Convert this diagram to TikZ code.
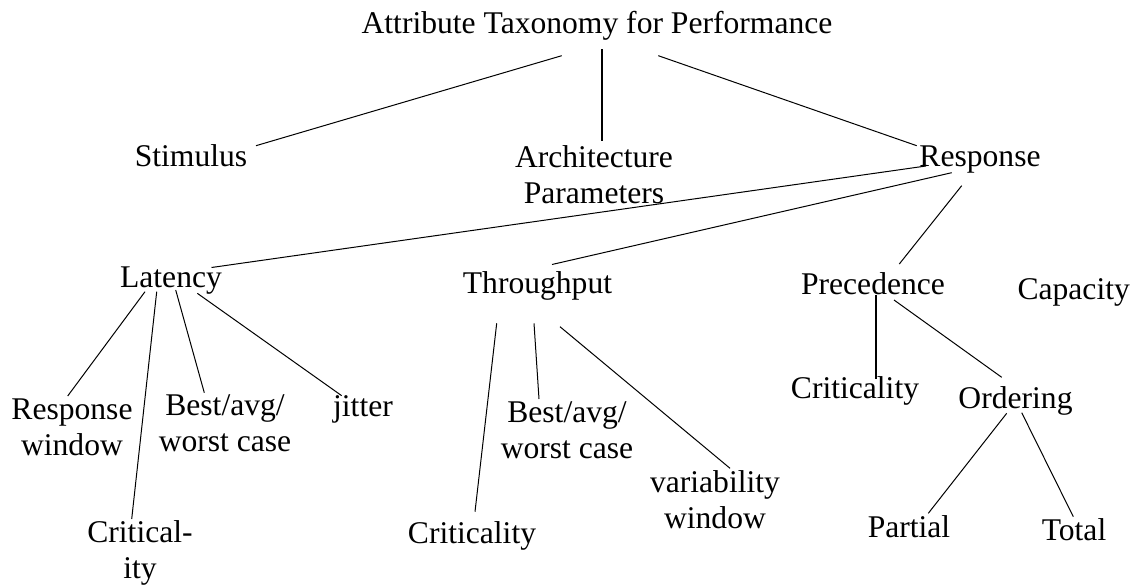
\documentclass[tikz,border=0pt]{standalone}
\usepackage{fontspec}
\setmainfont{Liberation Serif}
\begin{document}
\begin{tikzpicture}[x=1pt,y=-1pt,
  lbl/.style={font=\fontsize{31.6}{36}\selectfont, align=center, anchor=base, inner sep=0pt},
  edge/.style={line width=1pt},
  heavy/.style={line width=2pt}]
\useasboundingbox (0,0) rectangle (1137,588);

% labels (two-line labels are placed by the baseline of their last line)
\node[lbl] (title) at (597,33.5) {Attribute Taxonomy for Performance};
\node[lbl] (stim)  at (191,166.7) {Stimulus};
\node[lbl] (arch)  at (594,203.3) {Architecture\\Parameters};
\node[lbl] (resp)  at (980,166.7) {Response};

\node[lbl] (lat)   at (171,287) {Latency};
\node[lbl] (thr)   at (537.5,293.3) {Throughput};
\node[lbl] (prec)  at (873,294) {Precedence};
\node[lbl] (cap)   at (1073.7,299.3) {Capacity};

\node[lbl] (rw)    at (72,455) {Response\\window};
\node[lbl] (lbest) at (225,451.7) {Best/avg/\\worst case};
\node[lbl] (jit)   at (363,416.7) {jitter};
\node[lbl] (lcrit) at (140,578) {Critical-\\ity};

\node[lbl] (tcrit) at (472,543.3) {Criticality};
\node[lbl] (tbest) at (567,458.3) {Best/avg/\\worst case};
\node[lbl] (var)   at (715,528.3) {variability\\window};

\node[lbl] (pcrit) at (855,398.3) {Criticality};
\node[lbl] (ord)   at (1015.5,408.3) {Ordering};
\node[lbl] (part)  at (909,537.3) {Partial};
\node[lbl] (tot)   at (1074,540) {Total};

% tree edges
\draw[edge]  ([shift={(-35.3,22.2)}]title.base) -- ([shift={(65,-21)}]stim.base);
\draw[heavy] ([shift={(5.3,15.8)}]title.base) -- ([shift={(8.3,-62.6)}]arch.base);
\draw[edge]  ([shift={(61.3,22.2)}]title.base) -- ([shift={(-63.3,-21)}]resp.base);

\draw[edge] ([shift={(-54,-0.7)}]resp.base) -- ([shift={(40.5,-19.5)}]lat.base);
\draw[edge] ([shift={(-28.3,6)}]resp.base) -- ([shift={(14.5,-28.8)}]thr.base);
\draw[edge] ([shift={(-18.3,19)}]resp.base) -- ([shift={(26.3,-30)}]prec.base);

\draw[edge] ([shift={(-26,4.7)}]lat.base) -- ([shift={(-4.3,-59)}]rw.base);
\draw[edge] ([shift={(-14.3,4.7)}]lat.base) -- ([shift={(-8.3,-59)}]lcrit.base);
\draw[edge] ([shift={(4.7,3)}]lat.base) -- ([shift={(-20.7,-59)}]lbest.base);
\draw[edge] ([shift={(26.3,6.3)}]lat.base) -- ([shift={(-21.3,-21)}]jit.base);

\draw[edge] ([shift={(-40.8,30)}]thr.base) -- ([shift={(3,-31.6)}]tcrit.base);
\draw[edge] ([shift={(-3.5,30)}]thr.base) -- ([shift={(-28,-59.3)}]tbest.base);
\draw[edge] ([shift={(22.5,33.4)}]thr.base) -- ([shift={(15,-60)}]var.base);

\draw[heavy] ([shift={(3,1)}]prec.base) -- ([shift={(21,-19)}]pcrit.base);
\draw[edge]  ([shift={(21,6)}]prec.base) -- ([shift={(-13.8,-31)}]ord.base);
\draw[edge]  ([shift={(-8.8,5)}]ord.base) -- ([shift={(19.3,-24)}]part.base);
\draw[edge]  ([shift={(6.2,4.4)}]ord.base) -- ([shift={(-0.7,-23.3)}]tot.base);
\end{tikzpicture}
\end{document}
